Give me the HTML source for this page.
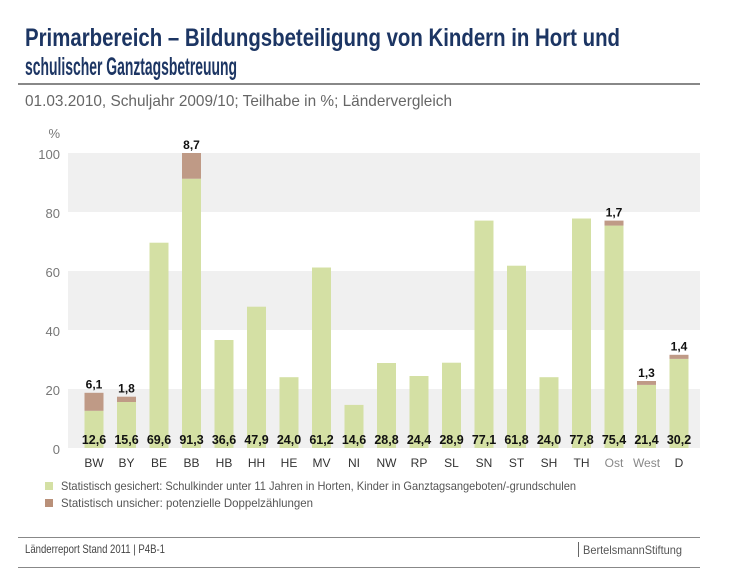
<!DOCTYPE html>
<html><head><meta charset="utf-8"><style>html,body{margin:0;padding:0;background:#fff}svg{display:block}</style></head>
<body>
<svg width="740" height="581" xmlns="http://www.w3.org/2000/svg" font-family="'Liberation Sans Narrow','Liberation Sans',sans-serif">
<text x="25" y="46" font-size="25" font-weight="bold" fill="#1c3563" textLength="595" lengthAdjust="spacingAndGlyphs">Primarbereich – Bildungsbeteiligung von Kindern in Hort und</text>
<text x="25" y="75" font-size="25" font-weight="bold" fill="#1c3563" textLength="212" lengthAdjust="spacingAndGlyphs">schulischer Ganztagsbetreuung</text>
<rect x="18" y="83" width="682" height="2" fill="#888"/>
<text x="25" y="106" font-size="16" fill="#666" textLength="427" lengthAdjust="spacingAndGlyphs">01.03.2010, Schuljahr 2009/10; Teilhabe in %; Ländervergleich</text>
<rect x="68" y="153" width="632" height="59" fill="#f0f0f0"/>
<rect x="68" y="271" width="632" height="59" fill="#f0f0f0"/>
<rect x="68" y="389" width="632" height="59" fill="#f0f0f0"/>
<g font-size="13" fill="#777" text-anchor="end">
<text x="60" y="159">100</text><text x="60" y="218">80</text><text x="60" y="277">60</text><text x="60" y="336">40</text><text x="60" y="395">20</text><text x="60" y="454">0</text>
<text x="60" y="138">%</text>
</g>
<g fill="#d4e0a4">
<rect x="84.5" y="410.8" width="19" height="37.2"/>
<rect x="117" y="402" width="19" height="46"/>
<rect x="149.5" y="242.7" width="19" height="205.3"/>
<rect x="182" y="178.7" width="19" height="269.3"/>
<rect x="214.5" y="340" width="19" height="108"/>
<rect x="247" y="306.7" width="19" height="141.3"/>
<rect x="279.5" y="377.2" width="19" height="70.8"/>
<rect x="312" y="267.5" width="19" height="180.5"/>
<rect x="344.5" y="404.9" width="19" height="43.1"/>
<rect x="377" y="363" width="19" height="85"/>
<rect x="409.5" y="376" width="19" height="72"/>
<rect x="442" y="362.7" width="19" height="85.3"/>
<rect x="474.5" y="220.6" width="19" height="227.4"/>
<rect x="507" y="265.7" width="19" height="182.3"/>
<rect x="539.5" y="377.2" width="19" height="70.8"/>
<rect x="572" y="218.5" width="19" height="229.5"/>
<rect x="604.5" y="225.6" width="19" height="222.4"/>
<rect x="637" y="384.9" width="19" height="63.1"/>
<rect x="669.5" y="358.9" width="19" height="89.1"/>
</g>
<g fill="#bf9a86">
<rect x="84.5" y="392.8" width="19" height="18"/>
<rect x="117" y="396.7" width="19" height="5.3"/>
<rect x="182" y="153" width="19" height="25.7"/>
<rect x="604.5" y="220.6" width="19" height="5"/>
<rect x="637" y="381" width="19" height="3.9"/>
<rect x="669.5" y="354.8" width="19" height="4.1"/>
</g>
<g font-size="12" font-weight="bold" fill="#111" text-anchor="middle">
<text x="94" y="388.5">6,1</text>
<text x="126.5" y="392.5">1,8</text>
<text x="191.5" y="149">8,7</text>
<text x="614" y="216.5">1,7</text>
<text x="646.5" y="377">1,3</text>
<text x="679" y="350.5">1,4</text>
</g>
<g font-size="12.5" font-weight="bold" fill="#111" text-anchor="middle">
<text x="94" y="444">12,6</text><text x="126.5" y="444">15,6</text><text x="159" y="444">69,6</text><text x="191.5" y="444">91,3</text><text x="224" y="444">36,6</text><text x="256.5" y="444">47,9</text><text x="289" y="444">24,0</text><text x="321.5" y="444">61,2</text><text x="354" y="444">14,6</text><text x="386.5" y="444">28,8</text><text x="419" y="444">24,4</text><text x="451.5" y="444">28,9</text><text x="484" y="444">77,1</text><text x="516.5" y="444">61,8</text><text x="549" y="444">24,0</text><text x="581.5" y="444">77,8</text><text x="614" y="444">75,4</text><text x="646.5" y="444">21,4</text><text x="679" y="444">30,2</text>
</g>
<g font-size="12" fill="#333" text-anchor="middle">
<text x="94" y="467">BW</text><text x="126.5" y="467">BY</text><text x="159" y="467">BE</text><text x="191.5" y="467">BB</text><text x="224" y="467">HB</text><text x="256.5" y="467">HH</text><text x="289" y="467">HE</text><text x="321.5" y="467">MV</text><text x="354" y="467">NI</text><text x="386.5" y="467">NW</text><text x="419" y="467">RP</text><text x="451.5" y="467">SL</text><text x="484" y="467">SN</text><text x="516.5" y="467">ST</text><text x="549" y="467">SH</text><text x="581.5" y="467">TH</text><text x="614" y="467" fill="#888">Ost</text><text x="646.5" y="467" fill="#888">West</text><text x="679" y="467">D</text>
</g>
<rect x="45" y="482" width="8" height="8" fill="#d4e0a4"/>
<text x="61" y="490" font-size="12" fill="#555" textLength="515" lengthAdjust="spacingAndGlyphs">Statistisch gesichert: Schulkinder unter 11 Jahren in Horten, Kinder in Ganztagsangeboten/-grundschulen</text>
<rect x="45" y="499" width="8" height="8" fill="#b99079"/>
<text x="61" y="507" font-size="12" fill="#555" textLength="252" lengthAdjust="spacingAndGlyphs">Statistisch unsicher: potenzielle Doppelzählungen</text>
<rect x="18" y="537" width="682" height="1" fill="#888"/>
<text x="25" y="553" font-size="12" fill="#444" textLength="140" lengthAdjust="spacingAndGlyphs">Länderreport Stand 2011 | P4B-1</text>
<rect x="578" y="542" width="1" height="15" fill="#666"/>
<text x="583" y="554" font-size="12" fill="#555" textLength="99" lengthAdjust="spacingAndGlyphs">BertelsmannStiftung</text>
<rect x="18" y="567" width="682" height="1" fill="#888"/>
</svg>
</body></html>
